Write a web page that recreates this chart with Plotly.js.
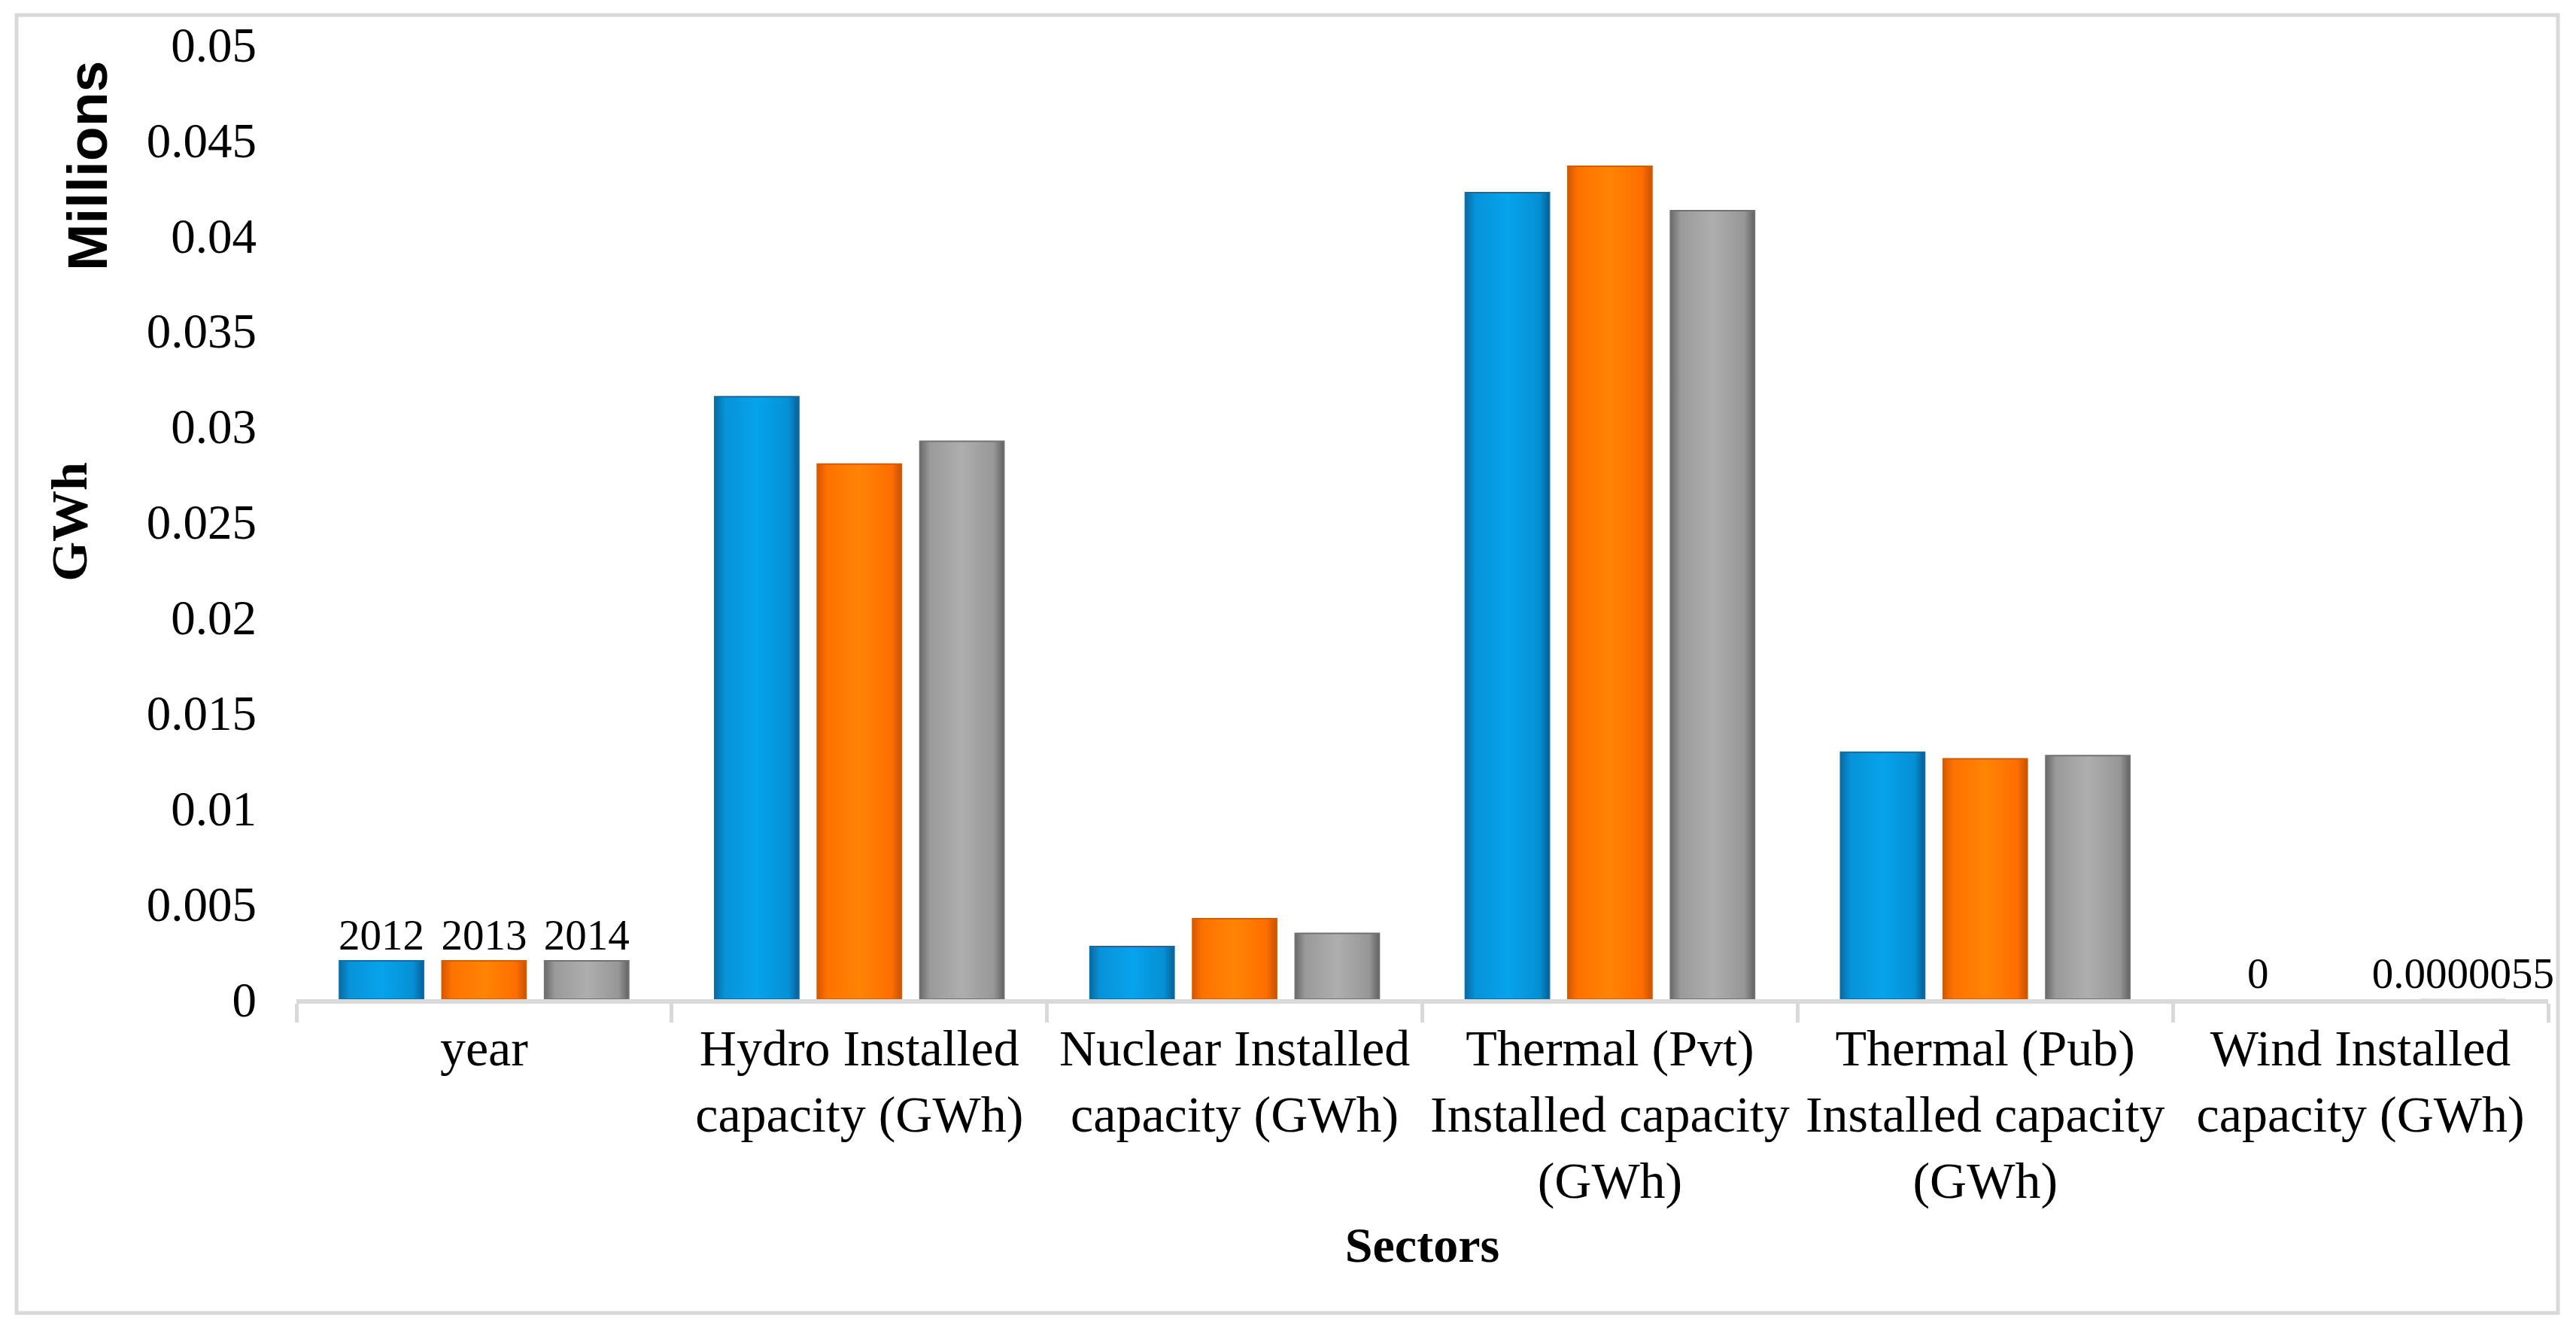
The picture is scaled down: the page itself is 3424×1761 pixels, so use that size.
<!DOCTYPE html>
<html>
<head>
<meta charset="utf-8">
<script src="https://cdn.plot.ly/plotly-3.0.1.min.js"></script>
<style>
html,body{margin:0;padding:0;background:#fff;overflow:hidden;}
#chart{width:3424px;height:1761px;}
</style>
</head>
<body>
<div id="chart"></div>
<script>
// ---- data (values in millions of GWh, as plotted) ----
var categories = [
  "year",
  "Hydro Installed<br>capacity (GWh)",
  "Nuclear Installed<br>capacity (GWh)",
  "Thermal (Pvt)<br>Installed capacity<br>(GWh)",
  "Thermal (Pub)<br>Installed capacity<br>(GWh)",
  "Wind Installed<br>capacity (GWh)"
];
var seriesNames = ["2012", "2013", "2014"];
var values2012 = [0.002012, 0.03155, 0.00276, 0.04224, 0.01293, 0];
var values2013 = [0.002013, 0.02802, 0.00422, 0.04362, 0.01259, null];
var values2014 = [0.002014, 0.02922, 0.00345, 0.04129, 0.01276, 0.0000055];
var labels2012 = ["2012", "", "", "", "", "0"];
var labels2013 = ["2013", "", "", "", "", ""];
var labels2014 = ["2014", "", "", "", "", "0.0000055"];
var yTickVals = [0, 0.005, 0.01, 0.015, 0.02, 0.025, 0.03, 0.035, 0.04, 0.045, 0.05];
var yTickText = ["0", "0.005", "0.01", "0.015", "0.02", "0.025", "0.03", "0.035", "0.04", "0.045", "0.05"];

var fills = ["#0598dd", "#ff7a05", "#a3a3a3"];
var edges = ["#0a6fa8", "#d65c00", "#727272"];
var grads = [
  ["#0a6aa2", "#0793d8", "#07a3ec", "#0590d4", "#085f95"],
  ["#d65800", "#ff7200", "#ff8405", "#ff6e00", "#c85200"],
  ["#6a6a6a", "#9a9a9a", "#aeaeae", "#979797", "#626262"]
];

var serif = "Liberation Serif, Times New Roman, serif";
var sans = "Liberation Sans, Arial, sans-serif";

function barTrace(i, vals, labels) {
  return {
    type: "bar",
    name: seriesNames[i],
    x: categories,
    y: vals,
    text: labels,
    textposition: "outside",
    constraintext: "none",
    cliponaxis: false,
    textfont: {family: serif, size: 57, color: "#000"},
    marker: {
      color: fills[i],
      line: {color: edges[i], width: vals.map(function (v) { return (v && v > 0.0001) ? 2 : 0; })}
    },
    hoverinfo: "x+y+name"
  };
}

var data = [
  barTrace(0, values2012, labels2012),
  barTrace(1, values2013, labels2013),
  barTrace(2, values2014, labels2014)
];

var W = 3424, H = 1761, mL = 394, mR = 37, mT = 59, mB = 433;
var pw = W - mL - mR, ph = H - mT - mB;
function px(x) { return (x - mL) / pw; }
function py(y) { return (H - mB - y) / ph; }

var layout = {
  width: W, height: H,
  margin: {l: mL, r: mR, t: mT, b: mB, pad: 0},
  paper_bgcolor: "#fff", plot_bgcolor: "#fff",
  showlegend: false,
  barmode: "group",
  bargap: 0.18,
  bargroupgap: 0.18,
  font: {family: serif, color: "#000"},
  xaxis: {
    type: "category",
    tickson: "boundaries",
    ticks: "outside", ticklen: 25, tickwidth: 5, tickcolor: "#d9d9d9",
    showline: true, linecolor: "#d9d9d9", linewidth: 6,
    showgrid: false, zeroline: false,
    tickangle: 0,
    tickfont: {family: serif, size: 68, color: "#000"},
    title: {text: "Sectors", font: {family: serif, size: 66, weight: "bold", color: "#000"}, standoff: 26},
    automargin: false
  },
  yaxis: {
    range: [0, 0.05],
    tickmode: "array", tickvals: yTickVals, ticktext: yTickText,
    showgrid: false, zeroline: false, showline: false,
    ticks: "", ticklabelstandoff: 52,
    tickfont: {family: serif, size: 65, color: "#000"},
    title: {text: "GWh", font: {family: serif, size: 68, weight: "bold", color: "#000"}, standoff: 56},
    automargin: false
  },
  annotations: [{
    text: "Millions",
    xref: "paper", yref: "paper",
    x: px(116), y: py(221),
    xanchor: "center", yanchor: "middle",
    textangle: -90, showarrow: false,
    font: {family: sans, size: 75, weight: "bold", color: "#000"}
  }],
  shapes: [{
    type: "rect", xref: "paper", yref: "paper",
    x0: px(22), x1: px(3400), y0: py(1745), y1: py(20),
    line: {color: "#d9d9d9", width: 5}, fillcolor: "rgba(0,0,0,0)", layer: "below"
  }]
};

Plotly.newPlot("chart", data, layout, {displayModeBar: false, staticPlot: true}).then(function (gd) {
  // shade the bars with a horizontal bevel-like gradient
  var svg = gd.querySelector("svg.main-svg");
  var ns = "http://www.w3.org/2000/svg";
  var defs = svg.querySelector("defs") || svg.insertBefore(document.createElementNS(ns, "defs"), svg.firstChild);
  grads.forEach(function (stops, i) {
    var lg = document.createElementNS(ns, "linearGradient");
    lg.setAttribute("id", "bevel" + i);
    lg.setAttribute("x1", "0"); lg.setAttribute("x2", "1");
    lg.setAttribute("y1", "0"); lg.setAttribute("y2", "0");
    var offs = [0, 0.12, 0.5, 0.88, 1];
    stops.forEach(function (c, k) {
      var s = document.createElementNS(ns, "stop");
      s.setAttribute("offset", offs[k]);
      s.setAttribute("stop-color", c);
      lg.appendChild(s);
    });
    defs.appendChild(lg);
  });
  var traces = gd.querySelectorAll(".barlayer .trace.bars");
  traces.forEach(function (t, i) {
    t.querySelectorAll(".point path").forEach(function (p) {
      p.style.fill = "url(#bevel" + i + ")";
    });
  });
});
</script>
</body>
</html>
